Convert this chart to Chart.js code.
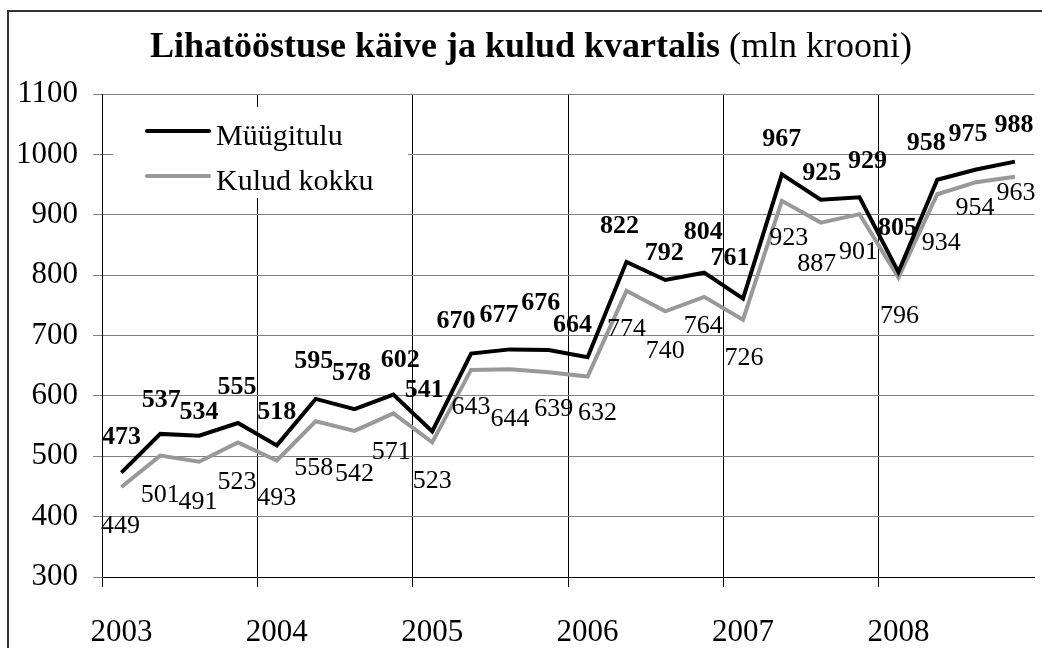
<!DOCTYPE html>
<html>
<head>
<meta charset="utf-8">
<script src="https://cdn.jsdelivr.net/npm/chart.js@4.4.0/dist/chart.umd.min.js"></script>
<style>
  html, body { margin: 0; padding: 0; background: #fff; }
  #wrap { position: relative; width: 1042px; height: 648px; }
</style>
</head>
<body>
<div id="wrap"><canvas id="lihaChart" width="1042" height="648"></canvas></div>
<script>
// kvartalid 2003 I ... 2008 IV
const years = ['2003', '2004', '2005', '2006', '2007', '2008'];
const quarterLabels = [];
years.forEach((y) => quarterLabels.push(y, '', '', ''));

const muugitulu = [473, 537, 534, 555, 518, 595, 578, 602, 541, 670, 677, 676,
  664, 822, 792, 804, 761, 967, 925, 929, 805, 958, 975, 988];
const kuludKokku = [449, 501, 491, 523, 493, 558, 542, 571, 523, 643, 644, 639,
  632, 774, 740, 764, 726, 923, 887, 901, 796, 934, 954, 963];

const yTicks = { min: 300, max: 1100, step: 100 };

// sildi nihe punkti suhtes (dx, dy), käsitsi nagu Excelis
const salesLabelShift = [[0,-35],[1,-34],[0,-23],[-1,-36],[0,-33],[-2,-38],[-3,-36],[7,-34],
  [-8,-41],[-15,-32],[-11,-34],[-8,-47],[-15,-32],[-7,-36],[-1,-27],[-1,-40],
  [-13,-40],[0,-35],[1,-26],[8,-36],[-1,-44],[-11,-36],[-8,-35],[-1,-36]];
const costLabelShift = [[-1,39],[0,40],[-1,40],[-1,40],[0,38],[-2,47],[0,43],[-2,39],
  [0,39],[0,37],[0,50],[5,37],[10,37],[0,38],[0,40],[-1,29],
  [1,38],[7,37],[-4,42],[-1,38],[1,39],[4,49],[-1,26],[1,16]];

const serif = '"Liberation Serif", "Times New Roman", serif';

const framePlugin = {
  id: 'frame',
  beforeDraw(chart) {
    const c = chart.ctx;
    c.save();
    c.strokeStyle = '#333';
    c.lineWidth = 2;
    c.strokeRect(8, 11, 1100, 700);
    // pealkiri: osa paks, osa tavaline
    const boldPart = 'Lihatööstuse käive ja kulud kvartalis';
    const normPart = ' (mln krooni)';
    c.font = 'bold 36px ' + serif;
    const w1 = c.measureText(boldPart).width;
    c.font = '36px ' + serif;
    const w2 = c.measureText(normPart).width;
    let x = 531 - (w1 + w2) / 2;
    c.fillStyle = '#000';
    c.textBaseline = 'alphabetic';
    c.textAlign = 'left';
    c.font = 'bold 36px ' + serif;
    c.fillText(boldPart, x, 57);
    c.font = '36px ' + serif;
    c.fillText(normPart, x + w1, 57);
    c.restore();
  },
};

const valueLabels = {
  id: 'valueLabels',
  afterDatasetsDraw(chart) {
    const c = chart.ctx;
    c.save();
    c.textAlign = 'center';
    c.textBaseline = 'middle';
    chart.data.datasets.forEach((ds, di) => {
      const meta = chart.getDatasetMeta(di);
      const shift = di === 0 ? salesLabelShift : costLabelShift;
      c.font = (di === 0 ? 'bold ' : '') + '26px ' + serif;
      c.fillStyle = '#000';
      meta.data.forEach((pt, i) => {
        c.fillText(String(ds.data[i]), pt.x + shift[i][0], pt.y + shift[i][1]);
      });
    });
    c.restore();
  },
};

const boxLegend = {
  id: 'boxLegend',
  afterDraw(chart) {
    const c = chart.ctx;
    c.save();
    c.fillStyle = '#fff';
    c.fillRect(113, 107, 295, 91);
    chart.data.datasets.forEach((ds, i) => {
      const y = 131 + i * 45;
      c.strokeStyle = ds.borderColor;
      c.lineWidth = 4;
      c.lineCap = 'round';
      c.beginPath();
      c.moveTo(147, y);
      c.lineTo(209, y);
      c.stroke();
      c.fillStyle = '#000';
      c.font = '30px ' + serif;
      c.textAlign = 'left';
      c.textBaseline = 'alphabetic';
      c.fillText(ds.label, 216, y + 14);
    });
    c.restore();
  },
};

const ctx = document.getElementById('lihaChart').getContext('2d');

const chart = new Chart(ctx, {
  type: 'line',
  data: {
    labels: quarterLabels,
    datasets: [
      { label: 'Müügitulu', data: muugitulu, borderColor: '#000', borderWidth: 4, pointRadius: 0, fill: false },
      { label: 'Kulud kokku', data: kuludKokku, borderColor: '#999', borderWidth: 4, pointRadius: 0, fill: false },
    ],
  },
  options: {
    responsive: false,
    animation: false,
    layout: { padding: { top: 94, right: 2, left: 0, bottom: 0 } },
    plugins: {
      legend: { display: false },
      title: { display: false },
      tooltip: { enabled: false },
    },
    scales: {
      x: {
        type: 'category',
        offset: true,
        afterFit: (s) => { s.height = 71; },
        grid: {
          offset: true,
          color: (ctx) => (ctx.index % 4 === 0 ? '#000' : 'rgba(0,0,0,0)'),
          tickLength: 10,
        },
        border: { color: '#000', width: 1 },
        ticks: {
          autoSkip: false,
          maxRotation: 0,
          padding: 27,
          color: '#000',
          font: { family: serif, size: 31 },
        },
      },
      y: {
        min: yTicks.min,
        max: yTicks.max,
        afterFit: (s) => { s.width = 102; },
        grid: { color: '#808080', tickLength: 9 },
        border: { color: '#000', width: 1 },
        ticks: {
          stepSize: yTicks.step,
          padding: 15,
          color: '#000',
          font: { family: serif, size: 31 },
          callback: (v) => String(v),
        },
      },
    },
  },
  plugins: [framePlugin, valueLabels, boxLegend],
});
</script>
</body>
</html>
